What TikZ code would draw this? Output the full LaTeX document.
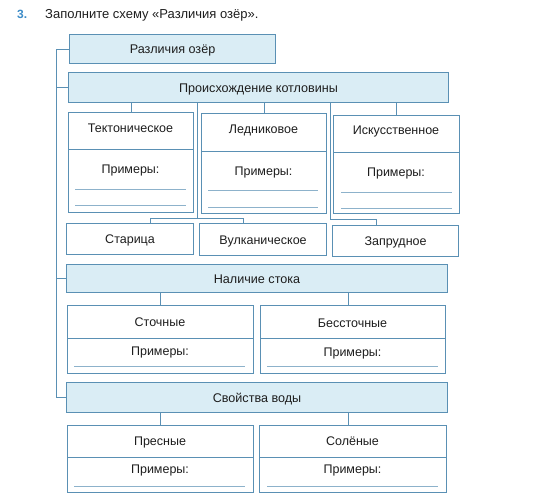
\documentclass[tikz,border=0pt]{standalone}
\usepackage{fontspec}
\setmainfont{Liberation Sans}
\definecolor{bord}{HTML}{5A90B4}
\definecolor{fillb}{HTML}{DAEDF5}
\definecolor{ansc}{HTML}{8DB2CB}
\definecolor{txtc}{HTML}{1E1E1E}
\definecolor{numc}{HTML}{3C8CC8}
\begin{document}
\begin{tikzpicture}[x=1pt,y=-1pt,
  bluebox/.style={draw=bord, fill=fillb, line width=1.1pt, inner sep=0pt, anchor=north west, font=\fontsize{12.6}{14}\selectfont, text=txtc, text height=9pt, text depth=0pt},
  wbox/.style={draw=bord, fill=white, line width=1.1pt, inner sep=0pt, anchor=north west, font=\fontsize{12.5}{14}\selectfont, text=txtc, text height=9pt, text depth=0pt},
  txt/.style={inner sep=0pt, font=\fontsize{12.5}{14}\selectfont, text=txtc, text height=9pt, text depth=0pt},
  divl/.style={draw=bord, line width=0.8pt},
  ansl/.style={draw=ansc, line width=0.8pt},
  conn/.style={draw=bord, line width=0.9pt}]
\useasboundingbox (0,0) rectangle (543,502);
\fill[white] (0,0) rectangle (543,502);

% heading
\node[inner sep=0pt, anchor=west, font=\bfseries\fontsize{12}{14}\selectfont, text=numc, text height=9pt, text depth=0pt] (num) at (17,14) {3.};
\node[inner sep=0pt, anchor=west, font=\fontsize{13}{14}\selectfont, text=txtc, text height=9pt, text depth=0pt] (title) at (45,14) {Заполните схему «Различия озёр».};

% blue bars
\node[bluebox, minimum width=206pt, minimum height=29pt] (R) at (69,34) {Различия озёр};
\node[bluebox, minimum width=380pt, minimum height=30pt] (P) at (68,72) {Происхождение котловины};
\node[bluebox, minimum width=381pt, minimum height=28pt] (N) at (66,264) {Наличие стока};
\node[bluebox, minimum width=381pt, minimum height=30pt] (Sv) at (66,382) {Свойства воды};

% origin boxes
\node[wbox, minimum width=125pt, minimum height=100pt] (T) at (68,112) {};
\node[wbox, minimum width=125pt, minimum height=100pt] (L) at (201,113) {};
\node[wbox, minimum width=126pt, minimum height=98pt] (I) at (333,115) {};
\draw[divl] (T.west |- 0,149) -- (T.east |- 0,149);
\draw[divl] (L.west |- 0,151) -- (L.east |- 0,151);
\draw[divl] (I.west |- 0,152) -- (I.east |- 0,152);
\node[txt] (Tt) at (130.5,128) {Тектоническое};
\node[txt] (Lt) at (263.5,129) {Ледниковое};
\node[txt] (It) at (396,130) {Искусственное};
\node[txt] (Tp) at (130.5,169) {Примеры:};
\node[txt] (Lp) at (263.5,171) {Примеры:};
\node[txt] (Ip) at (396,172) {Примеры:};
\draw[ansl] (75,189) -- (186,189);
\draw[ansl] (75,205) -- (186,205);
\draw[ansl] (208,190) -- (318,190);
\draw[ansl] (208,207) -- (318,207);
\draw[ansl] (341,192) -- (452,192);
\draw[ansl] (341,208) -- (452,208);

% second row of origin
\node[wbox, minimum width=127pt, minimum height=31pt] (S) at (66,223) {Старица};
\node[wbox, minimum width=127pt, minimum height=32pt] (V) at (199,223) {Вулканическое};
\node[wbox, minimum width=126pt, minimum height=31pt] (Z) at (332,225) {Запрудное};

% outflow boxes
\node[wbox, minimum width=186pt, minimum height=68pt] (St) at (67,305) {};
\node[wbox, minimum width=185pt, minimum height=68pt] (B) at (260,305) {};
\draw[divl] (St.west |- 0,338) -- (St.east |- 0,338);
\draw[divl] (B.west |- 0,338) -- (B.east |- 0,338);
\node[txt] (Stt) at (160,322) {Сточные};
\node[txt] (Bt) at (352.5,323) {Бессточные};
\node[txt] (Stp) at (160,351) {Примеры:};
\node[txt] (Bp) at (352.5,352) {Примеры:};
\draw[ansl] (74,366) -- (245,366);
\draw[ansl] (267,366) -- (438,366);

% water boxes
\node[wbox, minimum width=186pt, minimum height=67pt] (Pr) at (67,425) {};
\node[wbox, minimum width=187pt, minimum height=67pt] (So) at (259,425) {};
\draw[divl] (Pr.west |- 0,457) -- (Pr.east |- 0,457);
\draw[divl] (So.west |- 0,457) -- (So.east |- 0,457);
\node[txt] (Prt) at (160,441) {Пресные};
\node[txt] (Sot) at (352.5,441) {Солёные};
\node[txt] (Prp) at (160,469) {Примеры:};
\node[txt] (Sop) at (352.5,469) {Примеры:};
\draw[ansl] (74,486) -- (245,486);
\draw[ansl] (267,486) -- (438,486);

% connectors
\coordinate (spine) at (56,0);
\draw[conn] (R.west) -- (R.west -| spine) |- (Sv.west);
\draw[conn] (P.west) -- (P.west -| spine);
\draw[conn] (N.west) -- (N.west -| spine);

\draw[conn] (P.south -| T.north) -- (T.north);
\draw[conn] (P.south -| L.north) -- (L.north);
\draw[conn] (P.south -| I.north) -- (I.north);

\coordinate (j1) at (197,218);
\draw[conn] (P.south -| j1) -- (j1);
\draw[conn] ([xshift=20.5pt]S.north) -- ([xshift=20.5pt]S.north |- j1) -| ([xshift=-19.5pt]V.north);

\coordinate (j2) at (330,219);
\draw[conn] (P.south -| j2) -- (j2) -| ([xshift=-19pt]Z.north);

\draw[conn] (N.south -| St.north) -- (St.north);
\draw[conn] ([xshift=-4.5pt]B.north |- N.south) -- ([xshift=-4.5pt]B.north);

\draw[conn] (Sv.south -| Pr.north) -- (Pr.north);
\draw[conn] ([xshift=-4.5pt]So.north |- Sv.south) -- ([xshift=-4.5pt]So.north);
\end{tikzpicture}
\end{document}
